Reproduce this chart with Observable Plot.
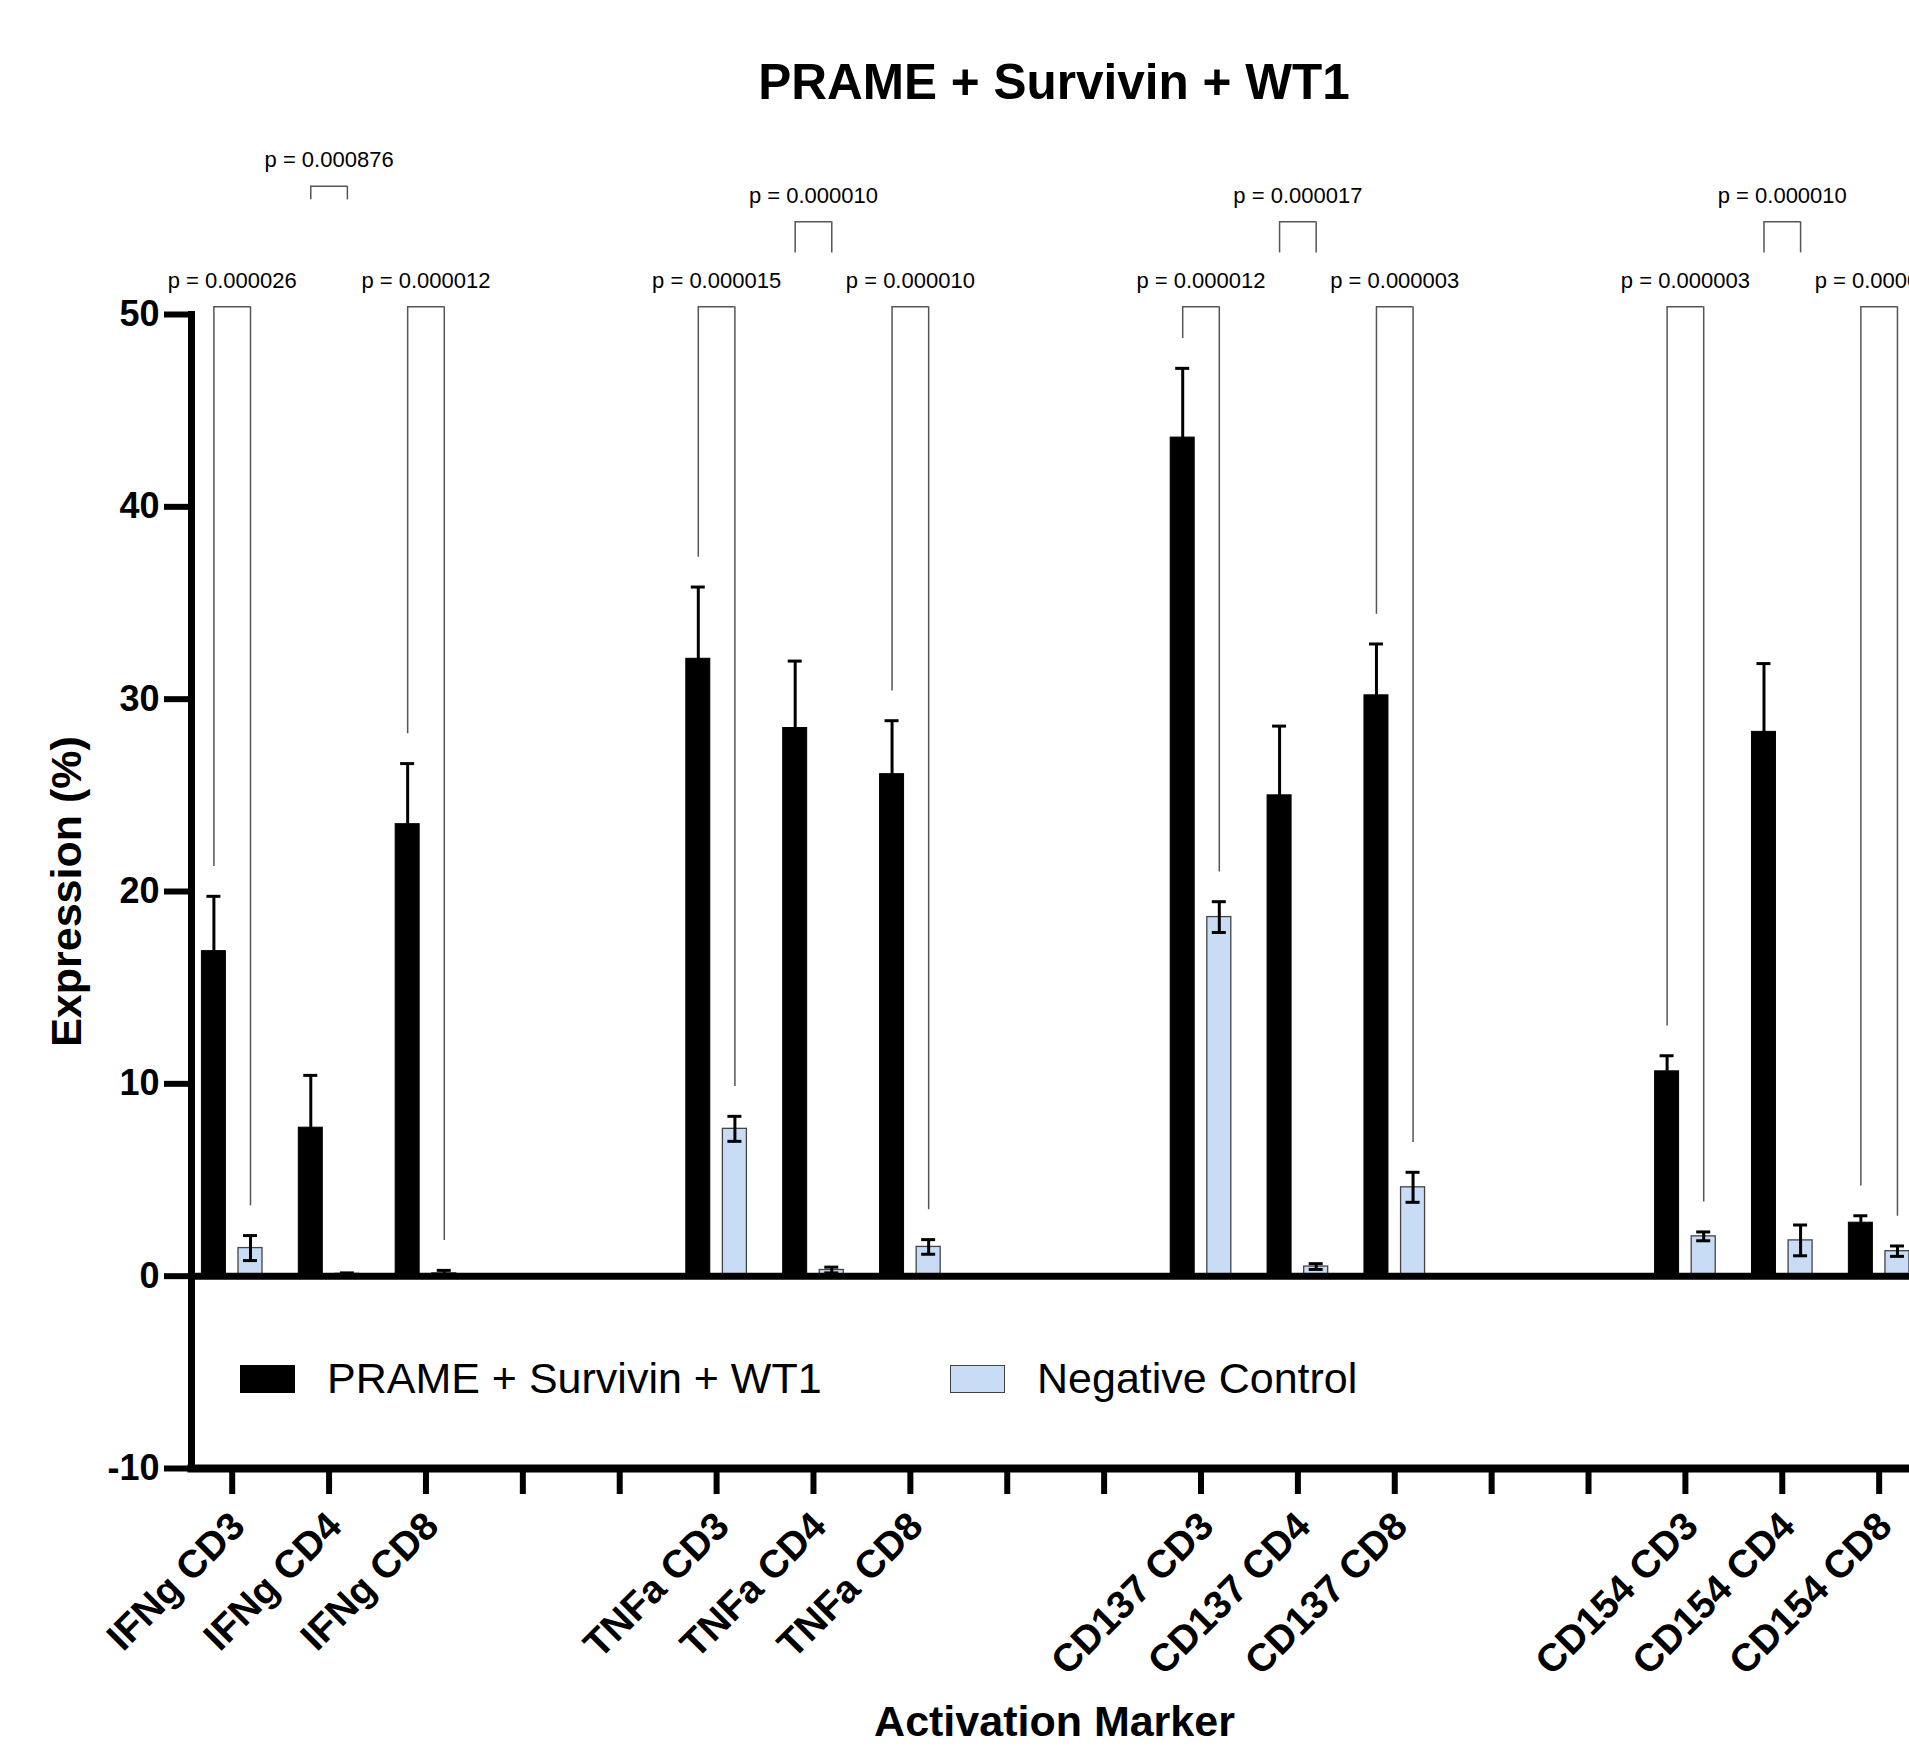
<!DOCTYPE html>
<html>
<head>
<meta charset="utf-8">
<script src="https://cdn.jsdelivr.net/npm/d3@7"></script>
<script src="https://cdn.jsdelivr.net/npm/@observablehq/plot@0.6"></script>
<style>
  html, body { margin: 0; padding: 0; background: #fff; }
  body { width: 1909px; height: 1748px; overflow: hidden; position: relative; font-family: "Liberation Sans", Arial, Helvetica, sans-serif; }
  #title { position: absolute; left: 0; top: 57px; width: 2108px; text-align: center; font-size: 49.5px; line-height: 50px; font-weight: bold; color: #000; }
  #chart { position: absolute; left: 0; top: 120px; width: 1940px; }
  #legend { position: absolute; top: 1357px; left: 240px; height: 43px; }
  .item { position: absolute; top: 0; display: flex; align-items: center; height: 43px; white-space: nowrap; }
  .sw { width: 55px; height: 28px; box-sizing: border-box; margin-right: 32px; }
  .lt { font-size: 43px; line-height: 43px; color: #000; }
</style>
</head>
<body>
<div id="title">PRAME + Survivin + WT1</div>
<div id="chart"></div>
<div id="legend"></div>
<script>
// ---- data ----
const slots = ["IFNg CD3", "IFNg CD4", "IFNg CD8", "gap1", "gap2",
               "TNFa CD3", "TNFa CD4", "TNFa CD8", "gap3", "gap4",
               "CD137 CD3", "CD137 CD4", "CD137 CD8", "gap5", "gap6",
               "CD154 CD3", "CD154 CD4", "CD154 CD8"];
const markers = ["IFNg CD3", "IFNg CD4", "IFNg CD8",
                 "TNFa CD3", "TNFa CD4", "TNFa CD8",
                 "CD137 CD3", "CD137 CD4", "CD137 CD8",
                 "CD154 CD3", "CD154 CD4", "CD154 CD8"];
const seriesNames = ["PRAME + Survivin + WT1", "Negative Control"];
const prameMean = [16.9, 7.72, 23.5, 32.1, 28.5, 26.1, 43.6, 25.0, 30.2, 10.65, 28.3, 2.78];
const prameSD   = [2.85, 2.72, 3.15, 3.73, 3.48, 2.78, 3.6, 3.6, 2.67, 0.81, 3.55, 0.36];
const controlMean = [1.46, 0.12, 0.15, 7.66, 0.32, 1.52, 18.67, 0.5, 4.62, 2.07, 1.86, 1.3];
const controlSD   = [0.65, 0.05, 0.15, 0.65, 0.15, 0.38, 0.8, 0.15, 0.78, 0.23, 0.8, 0.27];
const pValues = ["0.000026", "0.000876", "0.000012",
                 "0.000015", "0.000010", "0.000010",
                 "0.000012", "0.000017", "0.000003",
                 "0.000003", "0.000010", "0.000006"];
// bracket level (y value) and, for raised brackets, where the legs end
const bracketTop = [50.4, 56.67, 50.4, 50.4, 54.82, 50.4, 50.4, 54.82, 50.4, 50.4, 54.82, 50.4];
const bracketLegEnd = [null, 55.96, null, null, 53.2, null, null, 53.2, null, null, 53.2, null];
const yTicks = [-10, 0, 10, 20, 30, 40, 50];

// ---- styling constants ----
const BLUE = "#c8dcf5";
const OFF = 18.3;          // half distance between paired bars (px)
const STEP = 96.88;        // band step (px)
const BARW = 24;
const CAPW = 14;
const LEGGAP = 1.55;       // gap between error bar and bracket leg (data units)

const rows = markers.map((m, i) => ({
  slot: m,
  prame: prameMean[i], prameSD: prameSD[i],
  control: controlMean[i], controlSD: controlSD[i],
  p: pValues[i],
  top: bracketTop[i],
  legL: bracketLegEnd[i] ?? prameMean[i] + prameSD[i] + LEGGAP,
  legR: bracketLegEnd[i] ?? controlMean[i] + controlSD[i] + LEGGAP
}));

const barInset = (STEP - BARW) / 2;
const capInset = (STEP - CAPW) / 2;
const brInset = STEP / 2 - OFF;
const font = "Liberation Sans, Arial, Helvetica, sans-serif";

const chart = Plot.plot({
  width: 1940,
  height: 1628,
  marginLeft: 191,
  marginRight: 23,
  marginTop: 194,
  marginBottom: 280,
  style: {fontFamily: font, background: "white", overflow: "visible", color: "#000", maxWidth: "none"},
  x: {type: "band", domain: slots, range: [183.26, 183.26 + 18 * STEP], padding: 0, round: false, axis: null},
  y: {domain: [-10, 50], axis: null},
  marks: [
    // bars
    Plot.barY(rows, {x: "slot", y: "prame", fill: "#000", stroke: "#000", strokeWidth: 1, insetLeft: barInset, insetRight: barInset, dx: -OFF}),
    Plot.barY(rows, {x: "slot", y: "control", fill: BLUE, stroke: "#444", strokeWidth: 1.3, insetLeft: barInset, insetRight: barInset, dx: OFF}),
    // error bars
    Plot.ruleX(rows, {x: "slot", y1: "prame", y2: d => d.prame + d.prameSD, stroke: "#000", strokeWidth: 3, dx: -OFF}),
    Plot.tickY(rows, {x: "slot", y: d => d.prame + d.prameSD, stroke: "#000", strokeWidth: 3, insetLeft: capInset, insetRight: capInset, dx: -OFF}),
    Plot.ruleX(rows, {x: "slot", y1: d => d.control - d.controlSD, y2: d => d.control + d.controlSD, stroke: "#000", strokeWidth: 3, dx: OFF}),
    Plot.tickY(rows, {x: "slot", y: d => d.control + d.controlSD, stroke: "#000", strokeWidth: 3, insetLeft: capInset, insetRight: capInset, dx: OFF}),
    Plot.tickY(rows, {x: "slot", y: d => d.control - d.controlSD, stroke: "#000", strokeWidth: 3, insetLeft: capInset, insetRight: capInset, dx: OFF}),
    // significance brackets
    Plot.ruleY(rows, {x1: "slot", x2: "slot", y: "top", stroke: "#555", strokeWidth: 1.5, insetLeft: brInset, insetRight: brInset}),
    Plot.ruleX(rows, {x: "slot", y1: "top", y2: "legL", stroke: "#555", strokeWidth: 1.5, dx: -OFF}),
    Plot.ruleX(rows, {x: "slot", y1: "top", y2: "legR", stroke: "#555", strokeWidth: 1.5, dx: OFF}),
    Plot.text(rows, {x: "slot", y: "top", text: d => "p = " + d.p, dy: -26, fontSize: 22, fill: "#000"}),
    // zero line and axes
    Plot.ruleY([0], {stroke: "#000", strokeWidth: 7}),
    Plot.frame({anchor: "left", stroke: "#000", strokeWidth: 7, strokeLinecap: "square"}),
    Plot.frame({anchor: "bottom", stroke: "#000", strokeWidth: 8}),
    Plot.axisY({ticks: yTicks, tickFormat: d => String(d), tickSize: 27, tickPadding: 5, fontSize: 36, fontWeight: "bold", strokeWidth: 6, label: null}),
    Plot.axisX({tickFormat: () => "", tickSize: 26, strokeWidth: 6, label: null}),
    // x tick labels (rotated), positioned by the x scale
    Plot.text(markers, {x: d => d, text: d => d, frameAnchor: "bottom", rotate: -45, textAnchor: "end", lineAnchor: "middle", dx: 6, dy: 51, fontSize: 39, fontWeight: "bold", fill: "#000"}),
    // axis titles
    Plot.text(["Expression (%)"], {text: d => d, frameAnchor: "left", textAnchor: "middle", lineAnchor: "middle", dx: -124, rotate: -90, fontSize: 43, fontWeight: "bold", fill: "#000"}),
    Plot.text(["Activation Marker"], {text: d => d, frameAnchor: "bottom", textAnchor: "middle", lineAnchor: "middle", dy: 254, fontSize: 43, fontWeight: "bold", fill: "#000"})
  ]
});
document.getElementById("chart").appendChild(chart);

// legend
const legend = document.getElementById("legend");
const legendLefts = [0, 710];
seriesNames.forEach((name, i) => {
  const item = document.createElement("div");
  item.className = "item";
  item.style.left = legendLefts[i] + "px";
  const sw = document.createElement("div");
  sw.className = "sw";
  sw.style.background = i === 0 ? "#000" : BLUE;
  sw.style.border = i === 0 ? "1px solid #000" : "1.5px solid #444";
  const t = document.createElement("span");
  t.className = "lt";
  t.textContent = name;
  item.appendChild(sw);
  item.appendChild(t);
  legend.appendChild(item);
});
</script>
</body>
</html>
